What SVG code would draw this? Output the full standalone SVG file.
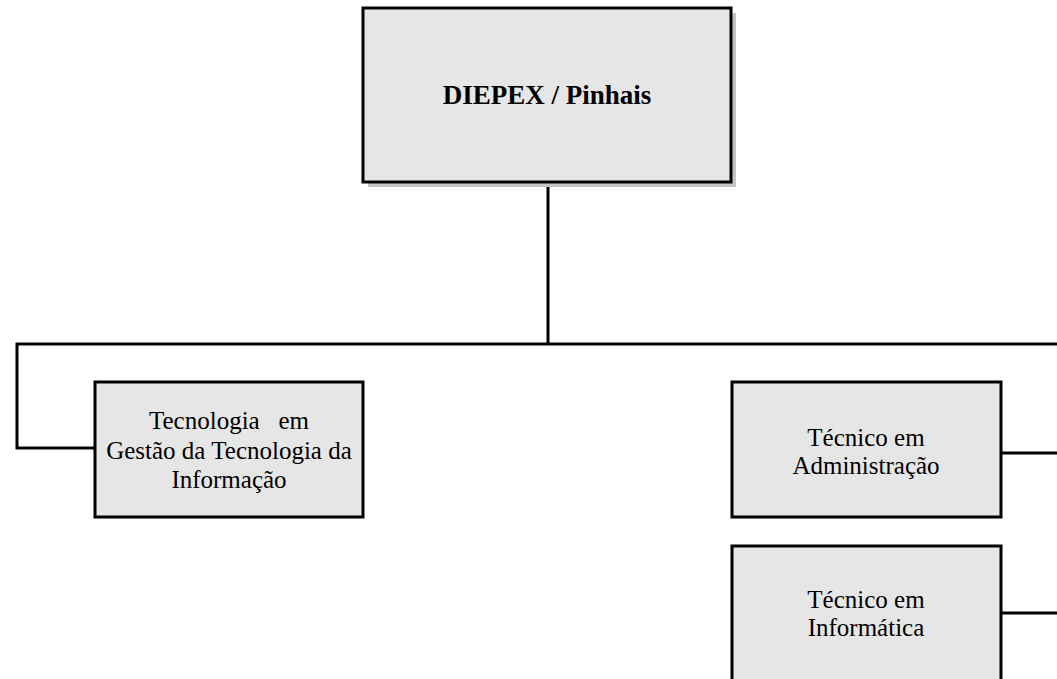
<svg xmlns="http://www.w3.org/2000/svg" width="1057" height="679" viewBox="0 0 1057 679">
<style>
.box{fill:#e6e6e6;stroke:#000;stroke-width:3}
.shadow{fill:#c4c4c4}
.con{fill:none;stroke:#000;stroke-width:3}
.t{font-family:"Liberation Serif","Times New Roman",serif;font-size:25px;fill:#000;text-anchor:middle}
.tb{font-family:"Liberation Serif","Times New Roman",serif;font-size:27px;font-weight:bold;fill:#000;text-anchor:middle}
</style>
<rect width="1057" height="679" fill="#fff"/>
<g id="connectors">
<polyline class="con" points="548,182 548,344"/>
<polyline class="con" points="1060,344 17,344 17,448 95,448"/>
<polyline class="con" points="1001,453 1060,453"/>
<polyline class="con" points="1001,613 1060,613"/>
</g>
<g id="node-diepex">
<rect class="shadow" x="368" y="13" width="368" height="174"/>
<rect class="box" x="363" y="8" width="368" height="174"/>
<text class="tb" x="547" y="104">DIEPEX / Pinhais</text>
</g>
<g id="node-tgti">
<rect class="box" x="95" y="382" width="268" height="135"/>
<text class="t" x="229" y="429" xml:space="preserve">Tecnologia   em</text>
<text class="t" x="229" y="459">Gestão da Tecnologia da</text>
<text class="t" x="229" y="488">Informação</text>
</g>
<g id="node-adm">
<rect class="box" x="732" y="382" width="269" height="135"/>
<text class="t" x="866" y="446">Técnico em</text>
<text class="t" x="866" y="474">Administração</text>
</g>
<g id="node-info">
<rect class="box" x="732" y="546" width="269" height="150"/>
<text class="t" x="866" y="608">Técnico em</text>
<text class="t" x="866" y="636">Informática</text>
</g>
</svg>
